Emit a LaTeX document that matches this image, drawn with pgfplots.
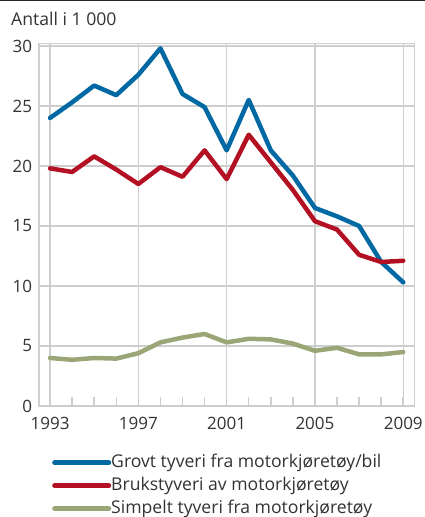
\documentclass[border=0pt]{standalone}
\usepackage{fontspec}
\setmainfont{Open Sans}
\usepackage{pgfplots}
\pgfplotsset{compat=1.18}
\definecolor{sblue}{RGB}{0,104,163}
\definecolor{sred}{RGB}{180,16,36}
\definecolor{sgreen}{RGB}{154,166,118}
\definecolor{gridgray}{RGB}{206,206,206}
\definecolor{txtgray}{RGB}{51,51,51}

\begin{document}
\fontsize{17pt}{20pt}\selectfont
\begin{tikzpicture}
\begin{axis}[
  at={(0,0)}, anchor=south west,
  scale only axis, width=375.3pt, height=362.7pt,
  xmin=1992.5, xmax=2009.5, ymin=0, ymax=30.22,
  xtick={1993,1997,...,2009}, minor xtick={1993,...,2009},
  ytick={0,5,...,30},
  grid=major,
  major grid style={gridgray, line width=1.5pt},
  axis line style={gridgray, line width=1.5pt},
  major tick length=0pt, minor tick length=9pt,
  minor tick style={gridgray, line width=1.5pt},
  tick align=inside, xtick pos=bottom, ytick pos=left,
  /pgf/number format/1000 sep={},
  /pgf/number format/assume math mode=true,
  tick label style={text=txtgray, font=\fontsize{17pt}{20pt}\selectfont},
  xticklabel style={yshift=-5pt},
  yticklabel style={xshift=-1pt},
  legend cell align=left,
  legend image code/.code={\draw[#1, line width=5pt] (0pt,0pt) -- (54pt,0pt);},
  legend style={at={(axis description cs:0,0)}, anchor=north west,
    xshift=13pt, yshift=-48pt, draw=none, fill=none, inner sep=0pt,
    row sep=6pt, text=txtgray,
    font=\fontsize{17.6pt}{20pt}\selectfont,
    nodes={inner sep=0pt, text height=13pt, text depth=4pt},
    /tikz/every even column/.style={column sep=11pt}},
  every axis plot/.append style={line width=4.5pt, line join=round, line cap=round},
]
\addplot[sblue] coordinates {
(1993,24.0) (1994,25.3) (1995,26.7) (1996,25.9) (1997,27.6) (1998,29.8)
(1999,26.0) (2000,24.9) (2001,21.3) (2002,25.5) (2003,21.3) (2004,19.2)
(2005,16.5) (2006,15.8) (2007,15.0) (2008,12.0) (2009,10.3)};
\addplot[sred] coordinates {
(1993,19.8) (1994,19.5) (1995,20.8) (1996,19.7) (1997,18.5) (1998,19.9)
(1999,19.1) (2000,21.3) (2001,18.9) (2002,22.6) (2003,20.3) (2004,18.0)
(2005,15.4) (2006,14.7) (2007,12.6) (2008,12.0) (2009,12.1)};
\addplot[sgreen] coordinates {
(1993,4.0) (1994,3.85) (1995,4.0) (1996,3.95) (1997,4.4) (1998,5.3)
(1999,5.7) (2000,6.0) (2001,5.3) (2002,5.6) (2003,5.55) (2004,5.2)
(2005,4.6) (2006,4.85) (2007,4.3) (2008,4.3) (2009,4.5)};
\legend{Grovt tyveri fra motorkjøretøy/bil, Brukstyveri av motorkjøretøy, Simpelt tyveri fra motorkjøretøy}
\end{axis}
\node[anchor=base west, text=txtgray, inner sep=0pt,
  font=\fontsize{17.6pt}{20pt}\selectfont] at (-28pt,380pt) {Antall i 1 000};
\draw[black!85, line width=1.8pt] (-39pt,405.5pt) -- (386pt,405.5pt);
\pgfresetboundingbox
\path (-39pt,-111pt) rectangle (386pt,406pt);
\end{tikzpicture}
\end{document}
